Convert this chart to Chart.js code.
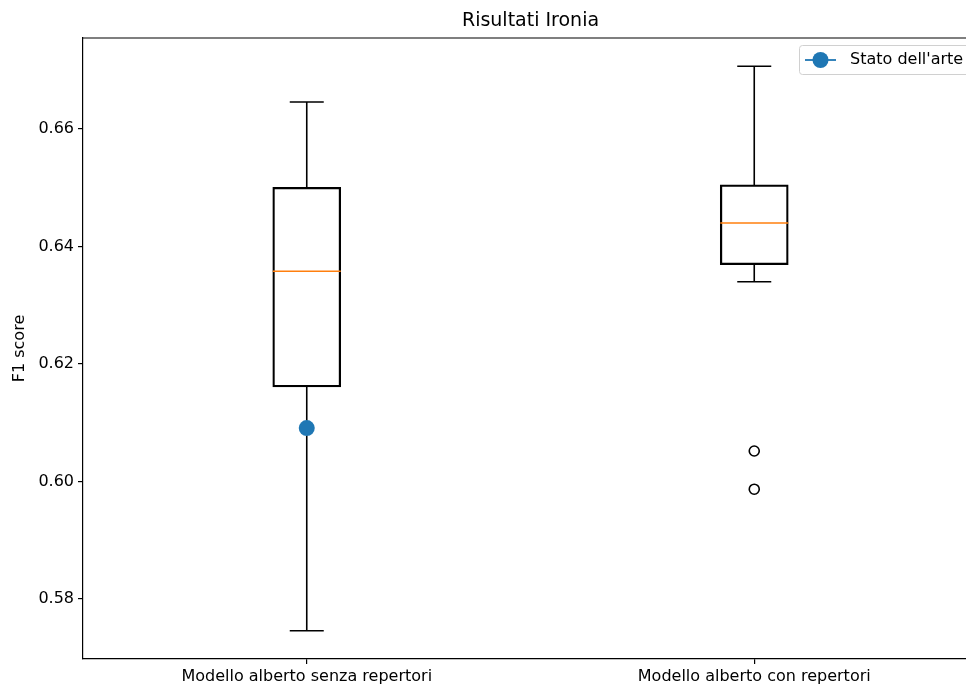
<!DOCTYPE html>
<html>
<head>
<meta charset="utf-8">
<script src="https://cdn.jsdelivr.net/npm/chart.js@4.4.0/dist/chart.umd.min.js"></script>
<style>
  body { margin: 0; overflow: hidden; background: #fff; }
  #wrap { width: 990px; height: 687px; }
</style>
</head>
<body>
<div id="wrap"><canvas id="chart1" width="990" height="687"></canvas></div>
<script>
const categories = ['Modello alberto senza repertori', 'Modello alberto con repertori'];
const whiskerLow = [0.5746, 0.6340];
const q1 = [0.6161, 0.6369];
const median = [0.6358, 0.6440];
const q3 = [0.6501, 0.6505];
const whiskerHigh = [0.6646, 0.6707];
const outliers = [[], [0.6052, 0.5987]];
const statoArte = [0.6091, null];
const yTicks = [0.58, 0.60, 0.62, 0.64, 0.66];

const FONT = 'DejaVu Sans';
const BLUE = '#1f77b4';

const outlierPoints = [];
outliers.forEach((list, i) => list.forEach(v => outlierPoints.push({ x: categories[i], y: v })));

// whiskers, caps, medians, spines, title, legend
const boxExtras = {
  id: 'boxExtras',
  beforeDatasetsDraw(chart) {
    const c = chart.ctx;
    const x = chart.scales.x, y = chart.scales.y;
    c.save();
    c.lineWidth = 1.6;
    c.strokeStyle = '#000';
    categories.forEach((cat, i) => {
      const px = x.getPixelForValue(i);
      c.beginPath();
      c.moveTo(px, y.getPixelForValue(q3[i]));
      c.lineTo(px, y.getPixelForValue(whiskerHigh[i]));
      c.moveTo(px, y.getPixelForValue(q1[i]));
      c.lineTo(px, y.getPixelForValue(whiskerLow[i]));
      c.moveTo(px - 17, y.getPixelForValue(whiskerHigh[i]));
      c.lineTo(px + 17, y.getPixelForValue(whiskerHigh[i]));
      c.moveTo(px - 17, y.getPixelForValue(whiskerLow[i]));
      c.lineTo(px + 17, y.getPixelForValue(whiskerLow[i]));
      c.stroke();
    });
    c.restore();
  },
  afterDatasetsDraw(chart) {
    const c = chart.ctx;
    const x = chart.scales.x, y = chart.scales.y;
    c.save();
    c.lineWidth = 1.5;
    c.strokeStyle = '#ff7f0e';
    categories.forEach((cat, i) => {
      const px = x.getPixelForValue(i);
      const py = y.getPixelForValue(median[i]);
      c.beginPath();
      c.moveTo(px - 34, py);
      c.lineTo(px + 34, py);
      c.stroke();
    });
    c.restore();
  },
  afterDraw(chart) {
    const c = chart.ctx;
    const a = chart.chartArea;
    c.save();
    // top spine
    c.strokeStyle = '#000';
    c.lineWidth = 1.2;
    c.beginPath();
    c.moveTo(a.left, a.top);
    c.lineTo(a.right, a.top);
    c.stroke();
    // title
    c.fillStyle = '#000';
    c.font = '19px "' + FONT + '"';
    c.textAlign = 'center';
    c.textBaseline = 'middle';
    c.fillText('Risultati Ironia', (a.left + a.right) / 2, 21);
    // y label
    c.font = '16px "' + FONT + '"';
    c.translate(20, (a.top + a.bottom) / 2);
    c.rotate(-Math.PI / 2);
    c.fillText('F1 score', 0, 0);
    c.setTransform(1, 0, 0, 1, 0, 0);
    // legend
    c.fillStyle = 'rgba(255,255,255,0.8)';
    c.strokeStyle = '#d0d0d0';
    c.lineWidth = 1;
    c.beginPath();
    c.roundRect(799.5, 45.5, 175, 29, 3);
    c.fill();
    c.stroke();
    c.strokeStyle = BLUE;
    c.lineWidth = 1.8;
    c.beginPath();
    c.moveTo(805, 60);
    c.lineTo(836, 60);
    c.stroke();
    c.fillStyle = BLUE;
    c.beginPath();
    c.arc(820.5, 60, 8, 0, Math.PI * 2);
    c.fill();
    c.fillStyle = '#000';
    c.font = '16px "' + FONT + '"';
    c.textAlign = 'left';
    c.fillText("Stato dell'arte", 850, 60);
    c.restore();
  }
};

const ctx = document.getElementById('chart1');

const myChart1 = new Chart(ctx, {
  type: 'bar',
  data: {
    labels: categories,
    datasets: [{
      label: 'box',
      data: categories.map((c, i) => [q1[i], q3[i]]),
      backgroundColor: 'rgba(0,0,0,0)',
      borderColor: '#000',
      borderWidth: 1.6,
      borderSkipped: false,
      barThickness: 68,
      order: 3
    }, {
      type: 'line',
      label: 'outliers',
      data: outlierPoints,
      showLine: false,
      pointStyle: 'circle',
      pointRadius: 5,
      pointBorderWidth: 1.6,
      pointBackgroundColor: 'rgba(0,0,0,0)',
      pointBorderColor: '#000',
      order: 2
    }, {
      type: 'line',
      label: "Stato dell'arte",
      data: statoArte,
      showLine: false,
      pointRadius: 8,
      pointBackgroundColor: BLUE,
      pointBorderColor: BLUE,
      pointBorderWidth: 0,
      order: 1
    }]
  },
  options: {
    responsive: false,
    animation: false,
    layout: { padding: { left: 0, right: 12, top: 38, bottom: 0 } },
    plugins: {
      legend: { display: false },
      tooltip: { enabled: false },
      title: { display: false }
    },
    scales: {
      x: {
        offset: true,
        grid: { display: true, drawOnChartArea: false, offset: false, color: '#000', tickLength: 5, lineWidth: 1.2 },
        border: { display: true, color: '#000', width: 1.2 },
        ticks: { color: '#000', font: { family: FONT, size: 16 }, padding: 3, maxRotation: 0 },
        afterFit(scale) { scale.height = 28; }
      },
      y: {
        min: 0.5698,
        max: 0.6755,
        grid: { display: true, drawOnChartArea: false, color: '#000', tickLength: 5, lineWidth: 1.2 },
        border: { display: true, color: '#000', width: 1.2 },
        ticks: {
          color: '#000',
          font: { family: FONT, size: 16 },
          padding: 4,
          callback: v => v.toFixed(2)
        },
        afterBuildTicks(scale) { scale.ticks = yTicks.map(v => ({ value: v })); },
        afterFit(scale) { scale.width = 83; }
      }
    }
  },
  plugins: [boxExtras]
});
</script>
</body>
</html>
